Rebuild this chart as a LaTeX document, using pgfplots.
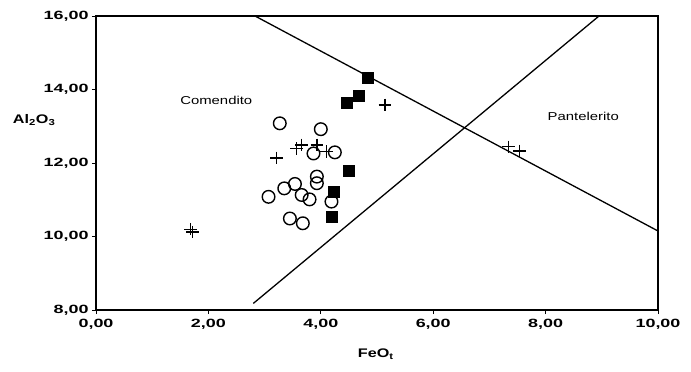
\documentclass[border=0pt]{standalone}
\usepackage{pgfplots}
\pgfplotsset{compat=1.18}
\usepackage{fontspec}
\setmainfont{Liberation Sans}[FakeStretch=1.3]
\newfontfamily\tickfont{Liberation Sans}[FakeStretch=1.5]
\begin{document}
\begin{tikzpicture}
\begin{axis}[
  scale only axis, width=562bp, height=294bp,
  xmin=0, xmax=10, ymin=8, ymax=16,
  xtick={0,2,...,10}, ytick={8,10,...,16},
  xtick pos=bottom, ytick pos=left,
  tick align=outside, major tick length=4bp,
  tick style={line width=0.8bp, black},
  axis line style={line width=1.3bp},
  xticklabel style={font=\tickfont\bfseries\fontsize{12}{14}\selectfont, yshift=-2bp},
  yticklabel style={font=\tickfont\bfseries\fontsize{12}{14}\selectfont},
  /pgf/number format/.cd, fixed, fixed zerofill, precision=2, use comma, assume math mode=true,
  /pgfplots/.cd,
  xlabel={FeO\textsubscript{t}},
  ylabel={Al\textsubscript{2}O\textsubscript{3}},
  every axis x label/.style={at={(axis description cs:0.498,-0.15)}, anchor=center, font=\bfseries\fontsize{12.5}{14}\selectfont},
  every axis y label/.style={at={(axis description cs:-0.110,0.646)}, anchor=center, font=\bfseries\fontsize{12.5}{14}\selectfont},
  clip=false,
]
% boundary lines
\addplot[line width=1.3bp, black] coordinates {(2.83,16) (10,10.15)};
\addplot[line width=1.3bp, black] coordinates {(2.80,8.18) (8.95,16)};
% circles
\addplot[only marks, mark=o, mark size=6.3bp, mark options={line width=1.4bp, black}] coordinates {
(3.27,13.08) (4.00,12.92) (3.87,12.26) (4.25,12.29) (3.93,11.63) (3.93,11.45)
(3.07,11.08) (3.35,11.31) (3.54,11.43) (3.66,11.13) (3.80,11.01) (4.19,10.95)
(3.45,10.49) (3.68,10.36)};
% squares
\addplot[only marks, mark=square*, mark size=5.5bp, mark options={black, fill=black}] coordinates {
(4.83,14.32) (4.68,13.82) (4.46,13.65) (4.49,11.79) (4.23,11.22) (4.19,10.54)};
% crosses
\addplot[only marks, mark=+, mark size=6.3bp, mark options={line width=1.3bp, black}] coordinates {
(5.14,13.58) (3.21,12.14) (3.57,12.40) (3.66,12.49) (3.93,12.49) (4.10,12.31)
(1.68,10.20) (1.72,10.12) (7.34,12.44) (7.54,12.33)};
\node[font=\fontsize{11.5}{13}\selectfont] at (axis cs:2.14,13.69) {Comendito};
\node[font=\fontsize{11.5}{13}\selectfont] at (axis cs:8.67,13.28) {Pantelerito};
\end{axis}
\pgfresetboundingbox
\path (-96bp,-62bp) rectangle (595bp,310bp);
\end{tikzpicture}
\end{document}
